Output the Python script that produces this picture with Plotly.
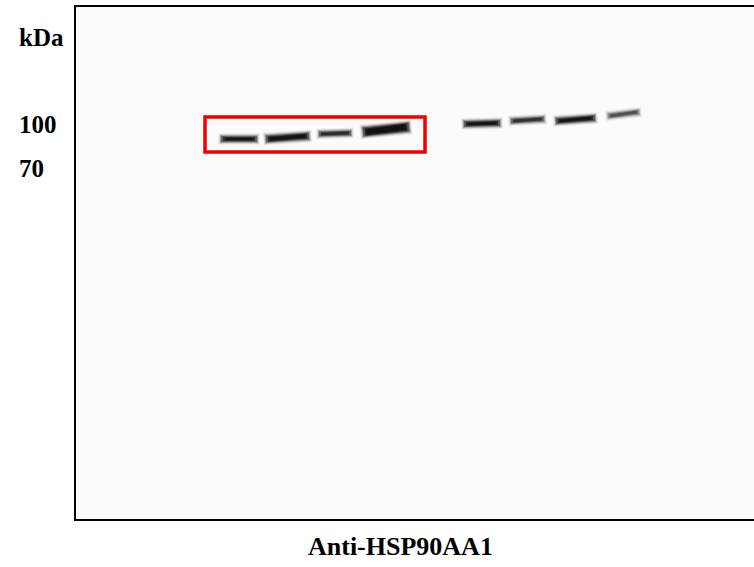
import plotly.graph_objects as go

# canvas is laid out in image pixels (754 x 567), y grows downward
W, H = 754, 567

# band geometry: start/end x, start/end y
band_x0 = [220, 265, 318, 362, 463, 510, 555, 607]
band_x1 = [258, 310, 352, 410, 501, 545, 596, 640]
band_y0 = [139, 139, 134, 132, 124, 121, 121, 116]
band_y1 = [139, 136, 133, 127, 123, 119, 118, 112]
band_thick = [6, 7, 5, 9, 6, 5, 6, 5]
band_dark = [0.85, 0.9, 0.85, 0.97, 0.9, 0.8, 0.92, 0.6]

marker_labels = ["kDa", "100", "70"]
marker_y = [37, 124, 168]

title_text = "Anti-HSP90AA1"

fig = go.Figure()

# blurred bands: stack strokes, wide and faint -> narrow, short and dark
layers = [(6, -2, 0.06), (4, -1, 0.14), (2, 0, 0.3),
          (0, 1, 0.5), (-2, 3, 0.75), (-4, 5, 0.9)]
for x0, x1, y0, y1, t, d in zip(band_x0, band_x1, band_y0, band_y1,
                                band_thick, band_dark):
    for grow, shrink, alpha in layers:
        w = t + grow
        if w < 1.5:
            continue
        fig.add_trace(go.Scatter(
            x=[x0 + shrink, x1 - shrink], y=[y0, y1],
            mode='lines',
            line=dict(color=f'rgba(15,15,15,{alpha * d:.3f})', width=w),
            showlegend=False, hoverinfo='skip',
        ))

# membrane frame (right edge runs off the image)
fig.add_shape(type='rect', x0=75, x1=W + 10, y0=6, y1=520,
              line=dict(color='black', width=2), fillcolor='#fbfbfb',
              layer='below')

# red highlight box around the first four lanes
fig.add_shape(type='rect', x0=205, x1=425, y0=117, y1=152,
              line=dict(color='#ee0000', width=3.5))

for lab, y in zip(marker_labels, marker_y):
    fig.add_annotation(x=17, y=y, text=f'<b>{lab}</b>', showarrow=False,
                       xanchor='left', yanchor='middle',
                       font=dict(family='Liberation Serif', size=25,
                                 color='black'))

fig.add_annotation(x=400, y=546, text=f'<b>{title_text}</b>', showarrow=False,
                   xanchor='center', yanchor='middle',
                   font=dict(family='Liberation Serif', size=26,
                             color='black'))

fig.update_xaxes(range=[0, W], visible=False, fixedrange=True)
fig.update_yaxes(range=[H, 0], visible=False, fixedrange=True)
fig.update_layout(
    width=W, height=H,
    margin=dict(l=0, r=0, t=0, b=0),
    paper_bgcolor='white', plot_bgcolor='white',
)

fig.write_html("out.html", config={'displayModeBar': False},
               post_script="document.body.style.margin='0px';")
